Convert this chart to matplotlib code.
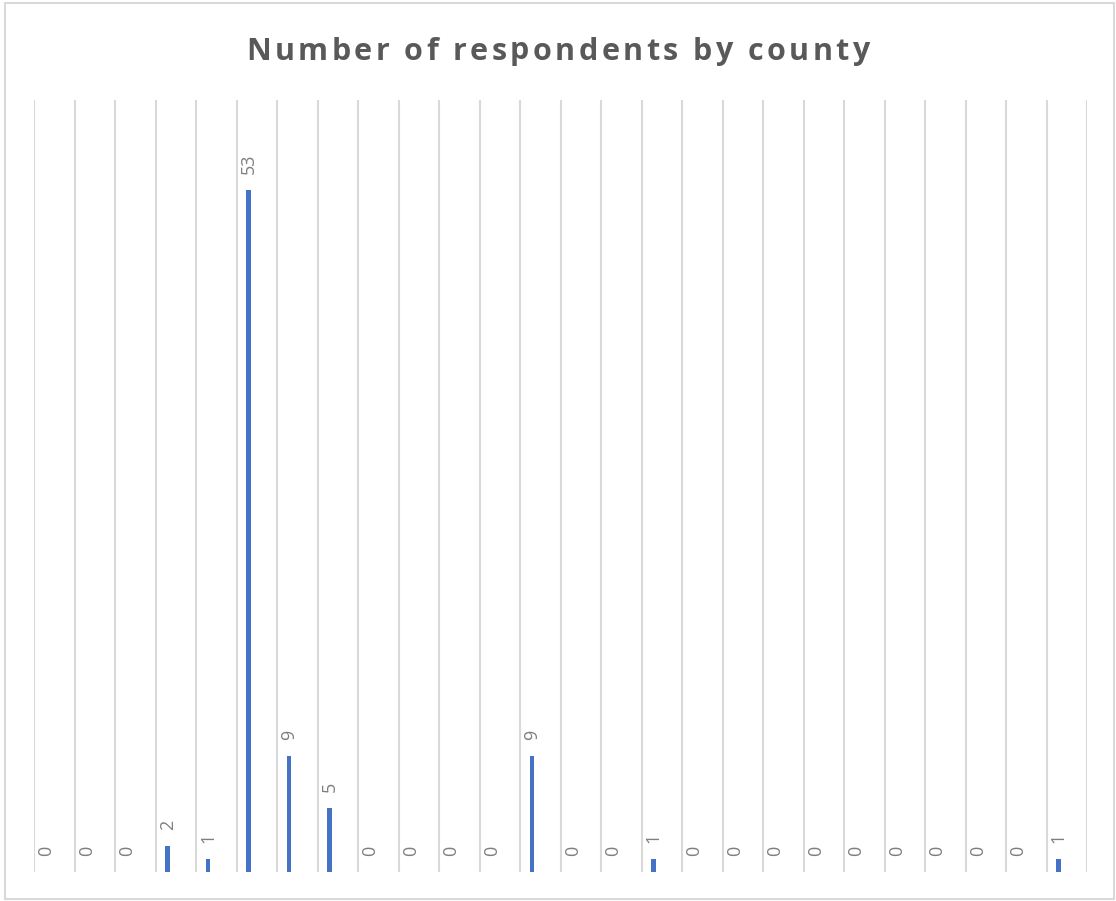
import matplotlib
matplotlib.use("Agg")
import matplotlib.pyplot as plt
from matplotlib.patches import Rectangle
from matplotlib.font_manager import FontProperties, findfont
from matplotlib.ft2font import FT2Font

# Respondent counts per county (26 counties)
counties = [f"County {i + 1}" for i in range(26)]
respondents = [0, 0, 0, 2, 1, 53, 9, 5, 0, 0, 0, 0, 9,
               0, 0, 1, 0, 0, 0, 0, 0, 0, 0, 0, 0, 1]
title_text = "Number of respondents by county"

BAR_COLOR = "#4472C4"
GRID_COLOR = "#D9D9D9"
LABEL_COLOR = "#7F7F7F"
TITLE_COLOR = "#595959"

W, H, DPI = 1116, 901, 100
fig = plt.figure(figsize=(W / DPI, H / DPI), dpi=DPI)
fig.patch.set_facecolor("white")

# Outer chart frame
fig.add_artist(Rectangle((4.5 / W, 2.5 / H), 1109 / W, 896 / H,
                         transform=fig.transFigure, fill=False,
                         edgecolor=GRID_COLOR, linewidth=1.5))

ax = fig.add_axes([34 / W, 29 / H, 1053 / W, 772 / H])
ax.set_xlim(-0.5, len(counties) - 0.5)
ax.set_ylim(0, 60)
for s in ax.spines.values():
    s.set_visible(False)
ax.set_xticks([])
ax.set_yticks([])

# Vertical category separators
for i in range(len(counties) + 1):
    ax.axvline(i - 0.5, color=GRID_COLOR, linewidth=1.5, zorder=0)

x = [i - 0.2 for i in range(len(counties))]
ax.bar(x, respondents, width=0.11, color=BAR_COLOR, zorder=2)

for xi, v in zip(x, respondents):
    ax.annotate(str(v), (xi, v), xytext=(0, 11.5), textcoords="offset points",
                rotation=90, ha="center", va="bottom", fontsize=13,
                color=LABEL_COLOR, family="Open Sans")

# Title with extra letter spacing, drawn glyph by glyph
tprop = FontProperties(family="Open Sans", weight="bold", size=22)
font = FT2Font(findfont(tprop))
font.set_size(tprop.get_size_in_points(), DPI)
spacing = 3.4
advances = []
for ch in title_text:
    g = font.load_char(ord(ch))
    advances.append(g.linearHoriAdvance / 65536.0)
total = sum(advances) + spacing * (len(title_text) - 1)
cx = W / 2 - total / 2
for ch, adv in zip(title_text, advances):
    if ch != " ":
        fig.text(cx / W, 1 - 48 / H, ch, fontproperties=tprop,
                 color=TITLE_COLOR, ha="left", va="center_baseline")
    cx += adv + spacing

fig.savefig("out.png", dpi=DPI, facecolor="white")
